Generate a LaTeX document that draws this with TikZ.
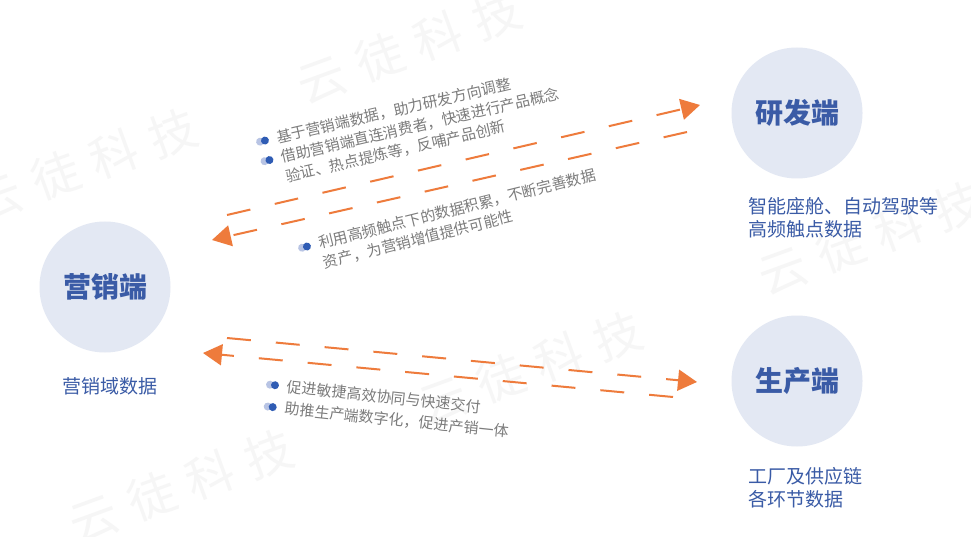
\documentclass[tikz,border=0pt]{standalone}
\usepackage{fontspec}
\setmainfont{Noto Sans CJK SC}
\usetikzlibrary{arrows.meta,positioning}
\definecolor{hub}{HTML}{E3E8F3}
\definecolor{ink}{HTML}{3A5BA6}
\definecolor{flow}{HTML}{EE7B3C}
\definecolor{note}{HTML}{7C7C7C}
\definecolor{dotdark}{HTML}{2F5CB4}
\definecolor{dotlight}{HTML}{B8C4E4}

\begin{document}
\begin{tikzpicture}[x=1pt, y=-1pt,
  hubnode/.style={circle, fill=hub, minimum size=131pt, inner sep=0pt,
                  text=ink, font=\fontsize{28}{30}\selectfont\bfseries},
  sub/.style={text=ink, font=\fontsize{19}{23}\selectfont, align=left, inner sep=0pt},
  item/.style={text=note, font=\fontsize{15}{18}\selectfont, anchor=west, inner sep=0pt},
  flowline/.style={flow, line width=2pt, dash pattern=on 24pt off 25pt,
                   -{Triangle[length=19pt,width=21pt]}},
  wm/.style={text=black!3.5, font=\fontsize{48}{48}\selectfont, rotate=20},
  twodot/.pic={\fill[dotlight] (-3,0) circle (4pt); \fill[dotdark] (2,0) circle (4pt);},
]
\fill[white] (0,0) rectangle (971,537);
\useasboundingbox (0,0) rectangle (971,537);

\foreach \p [count=\i] in {(409,47),(85,165),(870,238),(530,368),(181,486)}
  \node[wm] (wm\i) at \p {云\hspace{14pt}徒\hspace{14pt}科\hspace{14pt}技};

\node[hubnode] (mkt) at (105,287) {营销端};
\node[hubnode] (rnd) at (797,113) {研发端};
\node[hubnode] (prod) at (797,381) {生产端};

\node[sub, below=25pt of mkt, xshift=5pt] (mktsub) {营销域数据};
\node[sub, anchor=north west] (rndsub) at ([xshift=-49pt,yshift=-18pt]rnd.south)
  {智能座舱、自动驾驶等\\高频触点数据};
\node[sub, anchor=north west] (prodsub) at ([xshift=-49pt,yshift=-20pt]prod.south)
  {工厂及供应链\\各环节数据};

\coordinate (ua) at (227,215); \coordinate (ub) at (700,105);
\coordinate (uc) at (687,132); \coordinate (ud) at (212,240);
\coordinate (la) at (227,338); \coordinate (lb) at (697,382);
\coordinate (lc) at (673,397); \coordinate (ld) at (203,353);

\draw[flowline] (ua) -- (ub);
\draw[flowline] (uc) -- (ud);
\draw[flowline] (la) -- (lb);
\draw[flowline] (lc) -- (ld);

\begin{scope}[shift={(263,141)}, rotate=13, transform shape]
  \pic at (0,0) {twodot};
  \node[item] (up1) at (14,0) {基于营销端数据，助力研发方向调整};
  \pic at (0,20) {twodot};
  \node[item] (up2) at (14,20) {借助营销端直连消费者，快速进行产品概念};
  \node[item] (up3) at (14,40) {验证、热点提炼等，反哺产品创新};
\end{scope}

\begin{scope}[shift={(305,247)}, rotate=14, transform shape]
  \pic at (0,0) {twodot};
  \node[item] (back1) at (14,0) {利用高频触点下的数据积累，不断完善数据};
  \node[item] (back2) at (14,20) {资产，为营销增值提供可能性};
\end{scope}

\begin{scope}[shift={(273,385)}, rotate=-6, transform shape]
  \pic at (0,0) {twodot};
  \node[item] (low1) at (14,0) {促进敏捷高效协同与快速交付};
  \pic at (0,22) {twodot};
  \node[item] (low2) at (14,22) {助推生产端数字化，促进产销一体};
\end{scope}

\end{tikzpicture}
\end{document}
